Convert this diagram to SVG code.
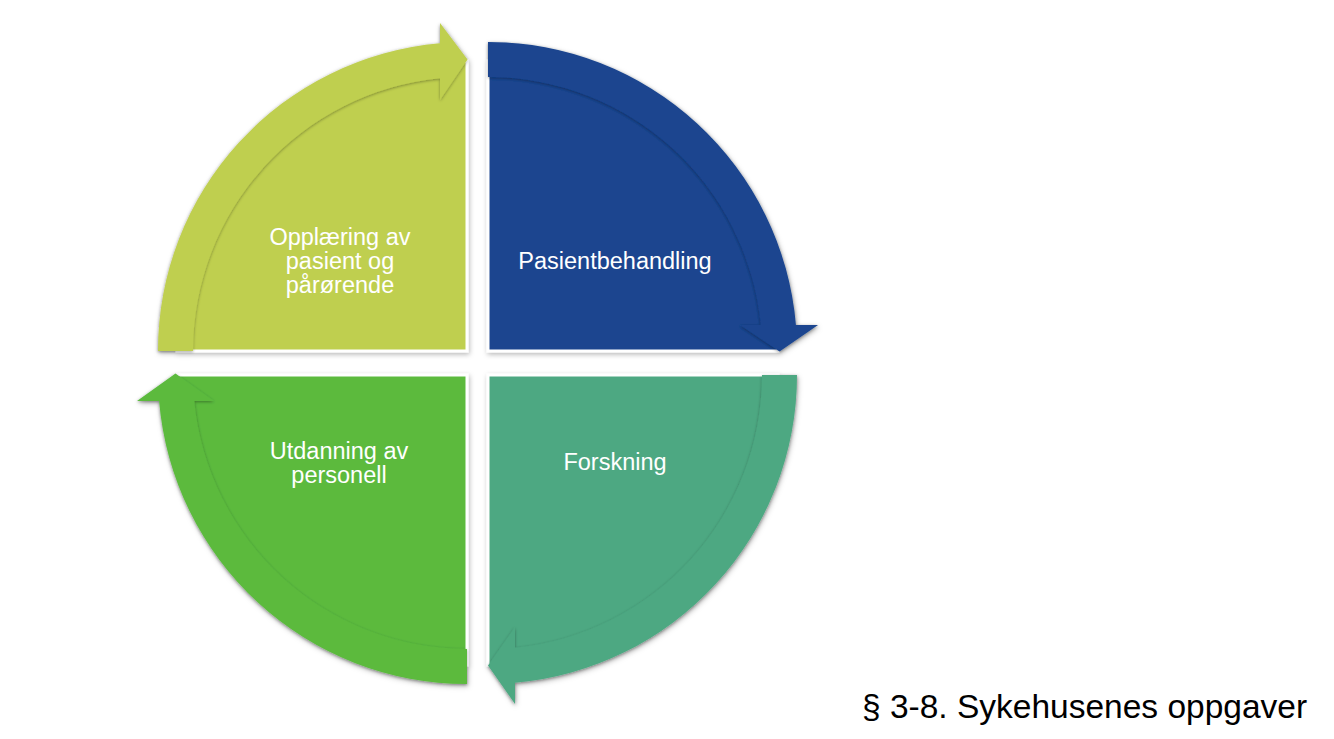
<svg xmlns="http://www.w3.org/2000/svg" width="1334" height="739" viewBox="0 0 1334 739">
  <style>
    .pie { stroke: #ffffff; stroke-width: 3; stroke-linejoin: miter; }
    .lbl { font-family: "Liberation Sans", Arial, sans-serif; font-size: 23.5px; fill: #ffffff; text-anchor: middle; }
    .title { font-family: "Liberation Sans", Arial, sans-serif; font-size: 33.5px; fill: #000000; }
    .yellow { fill: #bfcf4f; }
    .blue { fill: #1a458f; }
    .teal { fill: #4da882; }
    .green { fill: #5bba3e; }
  </style>
  <defs>
    <filter id="outer" x="-10%" y="-10%" width="120%" height="120%">
      <feDropShadow dx="1" dy="2" stdDeviation="2.5" flood-color="#000000" flood-opacity="0.28"/>
    </filter>
    <filter id="arrowsh" x="-10%" y="-10%" width="120%" height="120%">
      <feDropShadow dx="0" dy="1" stdDeviation="1.5" flood-color="#000000" flood-opacity="0.35"/>
    </filter>
  </defs>
  <rect width="1334" height="739" fill="#ffffff"/>

  <g id="node-opplaering" filter="url(#outer)">
    <path class="pie yellow" d="M467,351 L177,351 A290,290 0 0 1 467,61 Z"/>
    <path class="yellow" filter="url(#arrowsh)" d="M158,351 A309,309 0 0 1 440,43.18 L440,23 L467.5,59.5 L440,100 L440,78.33 A274,274 0 0 0 193,351 Z"/>
  </g>

  <g id="node-pasientbehandling" filter="url(#outer)">
    <path class="pie blue" d="M488,351 L488,61 A290,290 0 0 1 778,351 Z"/>
    <path class="blue" filter="url(#arrowsh)" d="M488,42 A309,309 0 0 1 795.9,325 L818,325 L779.5,351.5 L740,325 L760.76,325 A274,274 0 0 0 488,77 Z"/>
  </g>

  <g id="node-forskning" filter="url(#outer)">
    <path class="pie teal" d="M488,375 L778,375 A290,290 0 0 1 488,665 Z"/>
    <path class="teal" filter="url(#arrowsh)" d="M797,375 A309,309 0 0 1 515,682.82 L515,704 L488,665.5 L515,627 L515,647.67 A274,274 0 0 0 762,375 Z"/>
  </g>

  <g id="node-utdanning" filter="url(#outer)">
    <path class="pie green" d="M467,375 L467,665 A290,290 0 0 1 177,375 Z"/>
    <path class="green" filter="url(#arrowsh)" d="M467,684 A309,309 0 0 1 159.1,401 L137,401 L175.5,373.5 L214,401 L194.24,401 A274,274 0 0 0 467,649 Z"/>
  </g>

  <g id="connectors"></g>

  <g id="labels">
    <text class="lbl" x="340" y="245">Opplæring av</text>
    <text class="lbl" x="340" y="269">pasient og</text>
    <text class="lbl" x="340" y="293">pårørende</text>
    <text class="lbl" x="615" y="269">Pasientbehandling</text>
    <text class="lbl" x="615" y="470">Forskning</text>
    <text class="lbl" x="339" y="459">Utdanning av</text>
    <text class="lbl" x="339" y="483">personell</text>
  </g>

  <text class="title" x="862" y="718">§ 3-8. Sykehusenes oppgaver</text>
</svg>
